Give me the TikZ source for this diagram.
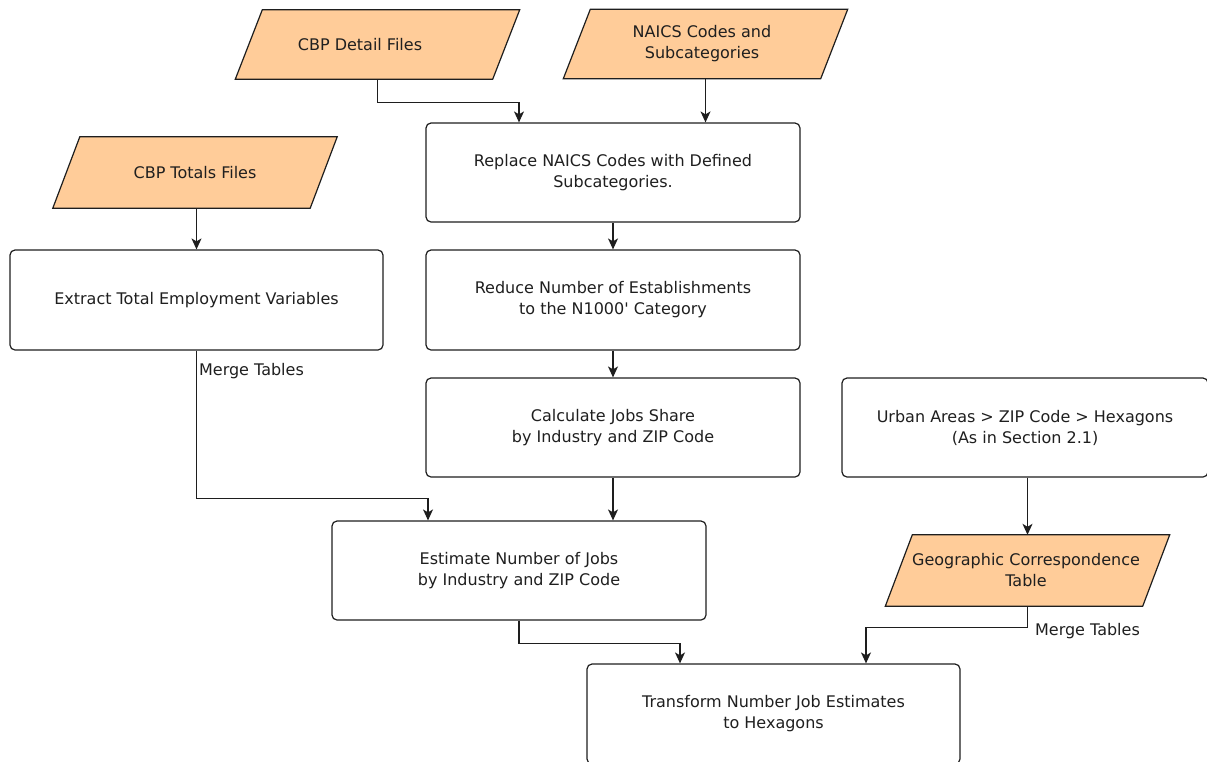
\documentclass[tikz,border=0pt]{standalone}
\usepackage{fontspec}
\setmainfont{DejaVu Sans}
\usetikzlibrary{arrows.meta,backgrounds}
\definecolor{datafill}{HTML}{FFCC99}
\definecolor{edge}{HTML}{1E1E1E}
\newcommand{\boxfont}{\fontsize{16}{21}\selectfont}
% parallelogram drawn behind a data node
\newcommand{\slantfill}[1]{\filldraw[datashape] ([xshift=13.5pt]#1.north west) -- ([xshift=13.5pt]#1.north east)
  -- ([xshift=-13.5pt]#1.south east) -- ([xshift=-13.5pt]#1.south west) -- cycle;}

\begin{document}
\begin{tikzpicture}[x=1pt,y=-1pt,
    every node/.style={font=\boxfont, align=center, text=black!88},
    process/.style={draw=edge, line width=1.2pt, rounded corners=5pt, fill=white,
      minimum width=374pt, minimum height=99pt, inner sep=0pt},
    data/.style={minimum width=257pt, minimum height=69pt, inner sep=0pt},
    datashape/.style={draw=edge, line width=1.2pt, fill=datafill},
    flow/.style={draw=edge, line width=1.2pt, -{Stealth[length=11pt,width=10pt,inset=3pt]}},
    note/.style={font=\boxfont, inner sep=2pt}]
  \useasboundingbox (0,0) rectangle (1207,761);

  % input files
  \node[data, label={[xshift=-17.5pt]center:CBP Detail Files}] (detail) at (377.5,44.5) {};
  \node[data, label={[xshift=-3.5pt]center:NAICS Codes and\\Subcategories}] (naics) at (705.5,44) {};
  \node[data, minimum height=71pt] (totals) at (195,172.5) {CBP Totals Files};

  % processing steps
  \node[process] (replace) at (613,172.5) {Replace NAICS Codes with Defined\\Subcategories.};
  \node[process, minimum width=373pt, minimum height=100pt] (extract) at (196.5,300) {Extract Total Employment Variables};
  \node[process, minimum height=100pt] (reduce) at (613,300) {Reduce Number of Establishments\\to the N1000\textquotesingle{} Category};
  \node[process] (calc) at (613,427.5) {Calculate Jobs Share\\by Industry and ZIP Code};
  \node[process, minimum width=366pt] (urban) at (1025,427.5) {Urban Areas > ZIP Code > Hexagons\\(As in Section 2.1)};
  \node[process] (estimate) at (519,570.5) {Estimate Number of Jobs\\by Industry and ZIP Code};
  \node[data, minimum height=71pt, label={[xshift=-1.5pt]center:Geographic Correspondence\\Table}] (geo) at (1027.5,570.5) {};
  \node[process, minimum width=373pt, minimum height=100pt] (transform) at (773.5,714) {Transform Number Job Estimates\\to Hexagons};

  % parallelograms
  \begin{scope}[on background layer]
    \slantfill{detail}
    \slantfill{naics}
    \slantfill{totals}
    \slantfill{geo}
  \end{scope}

  % connectors
  \draw[flow] (detail.south) -- ++(0,23) -| ([xshift=-94pt]replace.north);
  \draw[flow] (naics.south) -- (naics.south |- replace.north);
  \draw[flow] (extract.north |- totals.south) -- (extract.north);
  \draw[flow] (replace.south) -- (reduce.north);
  \draw[flow] (reduce.south) -- (calc.north);
  \draw[flow] (calc.south) -- (calc.south |- estimate.north);
  \draw[flow] (extract.south) -- node[pos=0.135, right, note] {Merge Tables} ++(0,148)
    -| ([xshift=-91pt]estimate.north);
  \draw[flow] (urban.south -| geo.north) -- (geo.north);
  \draw[flow] (geo.south) -- ++(0,21) node[anchor=west, note, xshift=5pt, yshift=-4pt] {Merge Tables}
    -| ([xshift=92.5pt]transform.north);
  \draw[flow] (estimate.south) -- ++(0,23) -| ([xshift=-93.5pt]transform.north);
\end{tikzpicture}
\end{document}
